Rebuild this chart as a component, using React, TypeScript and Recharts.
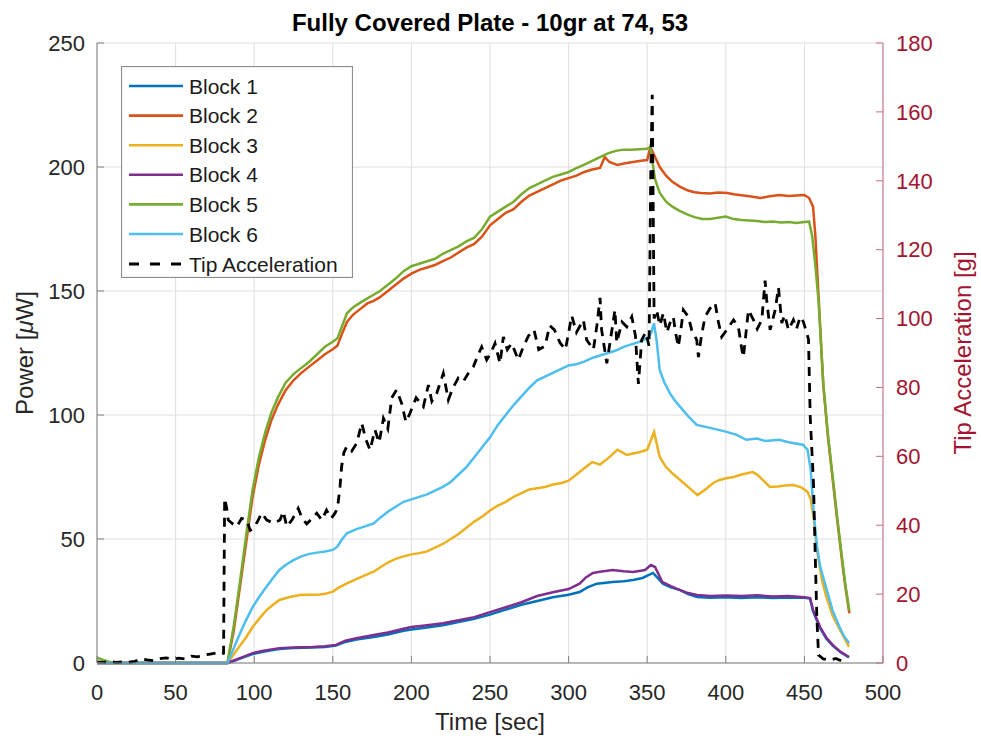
import React from 'react';
import { LineChart, Line, XAxis, YAxis, CartesianGrid } from 'recharts';

type Pt = [number, number];

const timeTicks = [0, 50, 100, 150, 200, 250, 300, 350, 400, 450, 500];
const powerTicks = [0, 50, 100, 150, 200, 250];
const accelTicks = [0, 20, 40, 60, 80, 100, 120, 140, 160, 180];

// [time sec, power uW]
const block1: Pt[] = [
  [0, 0], [83, 0], [87, 0.8], [91, 1.8], [95, 2.7], [99, 3.6], [105, 4.4], [110, 5], [116, 5.6], [125, 6],
  [137, 6.2], [145, 6.5], [152, 7], [158, 8.5], [165, 9.5], [176, 10.5], [185, 11.5], [195, 13], [200, 13.5],
  [210, 14.3], [220, 15.2], [230, 16.5], [240, 17.8], [250, 19.5], [260, 21.5], [270, 23.5], [280, 25],
  [290, 26.5], [300, 27.5], [307, 28.6], [312, 30.5], [318, 32], [328, 32.7], [335, 33], [341, 33.5],
  [347, 34.3], [353.7, 36.3], [360, 32], [365, 30.5], [371, 29.4], [376, 27.8], [381.7, 26.6], [390, 26.3],
  [400, 26.5], [410, 26.2], [420, 26.5], [430, 26.2], [440, 26.4], [450, 26.3], [453.6, 26], [455.5, 20.8],
  [460, 14], [464, 9.8], [468, 7], [473, 4.3], [478.4, 2.2],
];

const block2: Pt[] = [
  [0, 0], [83, 0], [87, 13], [91, 31], [95, 49], [99, 67], [103, 80], [107, 90], [111, 98], [115, 104],
  [120, 110], [125, 114], [130, 117], [135, 119.5], [140, 122], [145, 124.5], [150, 126.5], [153, 128],
  [156, 133], [159, 137.5], [163, 140.5], [168, 143], [172, 145], [176, 146], [180, 147.5], [185, 150],
  [190, 152.5], [195, 155], [200, 157], [205, 158.5], [210, 159.5], [215, 160.5], [220, 162], [225, 163.5],
  [230, 165.5], [235, 167.5], [240, 169], [245, 172], [250, 176.5], [255, 179], [260, 181.5], [265, 183],
  [270, 186], [275, 188.5], [280, 190], [285, 191.5], [290, 193], [295, 194.5], [300, 195.5], [305, 196.5],
  [310, 198], [315, 199], [320, 199.6], [323, 204], [326, 202], [331, 200.8], [336, 201.5], [341, 202],
  [346, 202.5], [350, 202.8], [352, 208], [355, 204], [358, 200], [362, 196.5], [366, 194], [371, 192],
  [376, 190.5], [380, 189.8], [384, 189.5], [390, 189.3], [395, 189.7], [401, 189.5], [405, 189], [410, 188.6],
  [415, 188.2], [422, 187.5], [428, 188.2], [434, 188.7], [440, 188.3], [445, 188.5], [450, 188.7], [453, 187.5],
  [455.5, 184], [457, 172], [459, 148], [462, 112], [465, 91], [468, 74], [471, 57], [474, 41], [476, 31],
  [478.6, 20],
];

const block3: Pt[] = [
  [0, 0], [83, 0], [87, 3.5], [91, 7], [95, 10.5], [99, 14.5], [104, 18.5], [108, 21.4], [112, 23.5],
  [116, 25.4], [122, 26.5], [129, 27.4], [135, 27.5], [142, 27.6], [146, 28], [150, 28.8], [154, 30.5],
  [159, 32.1], [165, 33.8], [170, 35.2], [176, 36.8], [180, 38.5], [185, 40.5], [190, 42], [195, 43],
  [200, 43.8], [205, 44.3], [210, 45], [215, 46.5], [220, 48], [225, 50], [230, 52], [235, 54.5], [240, 57],
  [245, 59], [250, 61.5], [255, 63.5], [260, 65], [265, 67], [270, 68.5], [275, 70], [280, 70.5], [285, 71],
  [290, 72], [295, 72.5], [300, 73.5], [305, 76], [310, 78.5], [315, 81], [320, 80], [325, 82.5], [331, 86],
  [337, 83.9], [341, 84.5], [345, 85], [350, 86], [354.4, 93.1], [358, 83], [362, 79], [366, 76.5],
  [371, 73.8], [376, 71], [382, 67.7], [387, 70], [392, 72.6], [396, 73.8], [401, 74.6], [405, 75], [410, 76],
  [417, 77], [420, 76], [424, 73.5], [428, 71], [433, 71.2], [438, 71.6], [443, 71.8], [448, 70.8], [452, 69],
  [454, 66], [456, 58], [458, 45.6], [461, 34], [464, 26.6], [468, 19], [472.6, 13.3], [478.4, 6.5],
];

const block4: Pt[] = [
  [0, 0], [83, 0], [87, 1], [91, 2], [95, 3], [99, 4], [105, 4.8], [110, 5.4], [116, 6], [125, 6.3],
  [137, 6.5], [145, 6.8], [152, 7.3], [158, 9], [165, 10], [176, 11.3], [185, 12.3], [195, 13.8], [200, 14.5],
  [210, 15.2], [220, 16], [230, 17.2], [240, 18.5], [250, 20.5], [260, 22.5], [270, 24.5], [280, 27],
  [290, 28.5], [300, 29.8], [307, 32], [311, 34.5], [315.5, 36.3], [320, 36.8], [328, 37.5], [335, 37],
  [341, 36.7], [348.6, 37.5], [352.4, 39.5], [355, 38.7], [359.5, 32.7], [365, 31], [371, 29.4], [376, 28.2],
  [381.7, 27.4], [390, 27], [400, 27.2], [410, 27], [420, 27.3], [430, 26.8], [440, 27], [450, 26.5],
  [453.6, 26.2], [455.5, 21.4], [460, 14.5], [464, 10.2], [468, 7.3], [473, 4.5], [478.4, 2.4],
];

const block5: Pt[] = [
  [0, 2.2], [4, 1.2], [8, 0.4], [12, 0], [83, 0], [87, 15], [91, 33], [95, 52], [99, 70], [103, 83],
  [107, 93], [111, 101], [115, 107], [120, 113], [125, 116.5], [130, 119], [135, 121.5], [140, 124.5],
  [145, 127.5], [150, 129.5], [153, 131], [156, 136], [159, 141], [163, 143.5], [168, 145.5], [172, 147],
  [176, 148.5], [180, 150], [185, 152.5], [190, 155], [195, 158], [200, 160], [205, 161], [210, 162],
  [215, 163], [220, 165], [225, 166.5], [230, 168], [235, 170], [240, 171.5], [245, 175], [250, 180],
  [255, 182], [260, 184], [265, 186], [270, 189], [275, 191.5], [280, 193], [285, 194.5], [290, 196],
  [295, 197], [300, 198], [305, 199.5], [310, 201], [315, 202.5], [320, 204], [325, 205.5], [330, 206.5],
  [335, 207], [340, 207], [345, 207.2], [350, 207.4], [352, 208], [355, 195], [358, 189.5], [362, 186],
  [366, 184], [370, 182.5], [375, 181], [380, 179.8], [385, 179], [390, 179], [395, 179.5], [400, 180],
  [405, 179], [410, 178.6], [415, 178.4], [420, 178.2], [425, 177.8], [430, 178], [435, 177.6], [440, 177.8],
  [445, 177.4], [450, 177.8], [453, 178], [455, 172], [457, 160], [459, 146], [462, 113], [465, 92], [468, 75],
  [471, 58], [474, 42], [476, 32], [478.6, 21],
];

const block6: Pt[] = [
  [0, 0], [83, 0], [87, 6], [91, 12], [95, 17.5], [99, 22.5], [103, 26.5], [107, 30], [111, 33.5],
  [116, 37.5], [120, 39.5], [125, 41.5], [130, 43], [135, 44], [140, 44.5], [145, 45], [150, 45.6], [153, 47],
  [156, 50], [159, 52.3], [165, 54], [170, 55], [176, 56.3], [180, 58.5], [185, 61], [190, 63], [195, 65],
  [200, 66], [205, 67], [210, 68], [215, 69.5], [220, 71], [225, 73], [230, 76], [235, 79], [240, 83],
  [245, 87], [250, 91], [255, 96], [260, 100], [265, 104], [270, 107.5], [275, 111], [280, 114], [285, 115.5],
  [290, 117], [295, 118.5], [300, 120], [305, 120.5], [310, 121.5], [315, 123], [320, 124], [325, 125],
  [330, 126], [335, 127.5], [340, 128.5], [345, 129.5], [350, 131], [352.5, 133], [354.3, 137], [356, 130],
  [358, 118], [361, 113], [364.5, 108.7], [368, 105.5], [371, 103.3], [376, 99.5], [381.5, 96], [390, 94.8],
  [400, 93.3], [407, 92], [413, 90], [420, 90.5], [425, 89.5], [434, 90], [440, 89], [449, 88], [452, 86],
  [454, 78], [456, 60], [458, 47], [460, 39], [464, 30], [468, 21], [472, 15], [475, 11], [478.5, 8],
];

// [time sec, tip acceleration g]
const tipAccel: Pt[] = [
  [0, 0.3], [4, 0.2], [8, 0.5], [12, 0.2], [16, 0.3], [20, 0.2], [24, 0.5], [28, 1.2], [32, 0.9], [36, 0.7],
  [40, 1.3], [44, 1.5], [48, 1.1], [52, 1.4], [56, 1.2], [60, 2], [64, 1.8], [68, 2.3], [72, 2.6], [76, 2.9],
  [79, 2.5], [80.5, 2.8], [81.2, 47.8], [82.5, 45], [83.5, 41.5], [86, 40.5], [88.9, 39.6], [92, 42],
  [95.2, 41.5], [97.5, 38.5], [99.5, 39.1], [102, 41], [104.8, 43.5], [108, 41.5], [112.2, 40.6],
  [116.4, 41.5], [118.5, 44], [120.7, 39.6], [124, 41.5], [128, 44.9], [130.5, 42], [133.4, 40.4], [137, 42],
  [139.8, 43.5], [143, 41.5], [146, 44.4], [149, 42], [151.4, 43.5], [153, 45], [154.6, 51.2], [155.6, 57],
  [157, 61], [158.8, 62.8], [162, 61.5], [165.2, 63.8], [168.4, 69.6], [171, 65], [173.7, 61.8],
  [176.8, 67.7], [179.5, 64], [182.2, 71], [185, 68], [187.5, 77], [190.6, 79.3], [193.8, 75.4], [196.5, 70],
  [199.1, 72.5], [203, 77], [207.6, 74.4], [210.8, 80.7], [213, 76], [216.1, 78.3], [220.3, 84.1],
  [223.5, 76.4], [226.5, 80], [229.8, 82.7], [233, 81.7], [236, 84], [239.4, 86], [242, 89], [244.7, 91.8],
  [247.9, 88], [250.5, 90], [253.2, 92.8], [256.4, 87], [258.5, 94.7], [261, 91], [263.8, 92.8], [268, 88],
  [271.2, 91.8], [274.5, 95], [278, 96.7], [281, 91], [285, 92], [288, 98], [291, 96.7], [294.5, 93],
  [298, 91], [302, 100.8], [305, 96], [309.4, 99.6], [311.5, 93.8], [315.8, 91], [318, 98], [320, 106],
  [321, 96.7], [324.3, 87], [327, 95], [329.5, 102.5], [330.6, 93], [334, 99], [337, 97.6], [340.2, 100.5],
  [342.5, 95], [344.4, 81], [346.5, 93.8], [349, 96], [351.2, 92], [352.2, 140], [353.2, 165], [354.4, 100],
  [356, 102.5], [358, 98], [360.3, 101.6], [362.5, 96], [364.5, 98.7], [366.6, 100.5], [368, 96],
  [369.8, 91.8], [371.5, 97], [373, 102.5], [376.2, 100.5], [378.3, 96.7], [381.5, 93.8], [382.6, 88.8],
  [384.5, 95], [386.8, 100.5], [390, 103], [393.2, 104.5], [395.3, 99], [397.4, 94.7], [401, 97],
  [404.9, 99.6], [408, 97.6], [410.2, 91], [411.2, 88.8], [414.4, 102.5], [417.6, 99.6], [420, 97],
  [422.9, 99.6], [425, 111], [426, 105.4], [428.2, 96.7], [431.4, 102.5], [433.5, 109], [435.6, 98.7],
  [437.5, 101], [439.9, 96.7], [443, 99.6], [445, 97], [447.3, 100.5], [449.4, 99], [452.6, 94],
  [453.7, 71.5], [455.8, 52], [456.8, 33], [457.9, 13.5], [459, 2.3], [462, 1.2], [466, 0.8], [470, 1.3],
  [474, 0.5], [477, 0.6],
];

const blockNames = ['Block 1', 'Block 2', 'Block 3', 'Block 4', 'Block 5', 'Block 6'];
const blockColors = ['#0072BD', '#D95319', '#EDB120', '#7E2F8E', '#77AC30', '#4DBEEE'];
const blockData = [block1, block2, block3, block4, block5, block6];

const FONT = '"Liberation Sans", Arial, Helvetica, sans-serif';
const ACCENT = '#A2142F';

const rows = (pts: Pt[]) => pts.map(([t, v]) => ({ t, v }));

const LegendBox = () => (
  <svg
    width={232}
    height={212}
    style={{ position: 'absolute', left: 121, top: 66, fontFamily: FONT }}
  >
    <rect x={0.5} y={0.5} width={231} height={211} fill="#fff" stroke="#8c8c8c" strokeWidth={1.2} />
    {blockNames.map((name, i) => (
      <g key={name}>
        <line x1={8} x2={62} y1={20 + i * 29.6} y2={20 + i * 29.6} stroke={blockColors[i]} strokeWidth={2.6} />
        <text x={68} y={20 + i * 29.6} dy="0.36em" fontSize={21} fill="#1a1a1a">{name}</text>
      </g>
    ))}
    <line x1={8} x2={62} y1={198} y2={198} stroke="#000" strokeWidth={2.8} strokeDasharray="10 11" />
    <text x={68} y={198} dy="0.36em" fontSize={21} fill="#1a1a1a">Tip Acceleration</text>
  </svg>
);

export default function App() {
  return (
    <div style={{ position: 'absolute', left: 0, top: 0, width: 981, height: 742, background: '#fff', fontFamily: FONT }}>
      <LineChart width={981} height={742} margin={{ top: 43, left: 47, right: 48, bottom: 39 }}>
        <CartesianGrid yAxisId="left" stroke="#dedede" strokeWidth={1} />
        <XAxis
          type="number"
          dataKey="t"
          domain={[0, 500]}
          ticks={timeTicks}
          allowDataOverflow
          height={40}
          stroke="#808080"
          tickSize={-7}
          tickMargin={28}
          tick={{ fill: '#262626', fontSize: 22, fontFamily: FONT }}
        />
        <YAxis
          yAxisId="left"
          domain={[0, 250]}
          ticks={powerTicks}
          width={50}
          stroke="#808080"
          tickSize={-7}
          tickMargin={19}
          tick={{ fill: '#262626', fontSize: 22, fontFamily: FONT }}
        />
        <YAxis
          yAxisId="right"
          orientation="right"
          domain={[0, 180]}
          ticks={accelTicks}
          width={50}
          stroke="#c96a80"
          tickSize={-7}
          tickMargin={20}
          tick={{ fill: ACCENT, fontSize: 22, fontFamily: FONT }}
        />
        {blockData.map((pts, i) => (
          <Line
            key={blockNames[i]}
            yAxisId="left"
            data={rows(pts)}
            dataKey="v"
            name={blockNames[i]}
            type="linear"
            stroke={blockColors[i]}
            strokeWidth={2.5}
            dot={false}
            activeDot={false}
            isAnimationActive={false}
          />
        ))}
        <Line
          yAxisId="right"
          data={rows(tipAccel)}
          dataKey="v"
          name="Tip Acceleration"
          type="linear"
          stroke="#000"
          strokeWidth={2.8}
          strokeDasharray="9 7"
          dot={false}
          activeDot={false}
          isAnimationActive={false}
        />
      </LineChart>

      <LegendBox />

      <div style={{ position: 'absolute', left: 490, top: 23, transform: 'translate(-50%, -50%)', fontSize: 24, fontWeight: 'bold', color: '#000', whiteSpace: 'nowrap', lineHeight: 1 }}>
        Fully Covered Plate - 10gr at 74, 53
      </div>
      <div style={{ position: 'absolute', left: 490, top: 722, transform: 'translate(-50%, -50%)', fontSize: 24, color: '#262626', whiteSpace: 'nowrap', lineHeight: 1 }}>
        Time [sec]
      </div>
      <div style={{ position: 'absolute', left: 25, top: 353, transform: 'translate(-50%, -50%) rotate(-90deg)', fontSize: 24, color: '#262626', whiteSpace: 'nowrap', lineHeight: 1 }}>
        Power [<i>μ</i>W]
      </div>
      <div style={{ position: 'absolute', left: 963, top: 353, transform: 'translate(-50%, -50%) rotate(-90deg)', fontSize: 24, color: ACCENT, whiteSpace: 'nowrap', lineHeight: 1 }}>
        Tip Acceleration [g]
      </div>
    </div>
  );
}
